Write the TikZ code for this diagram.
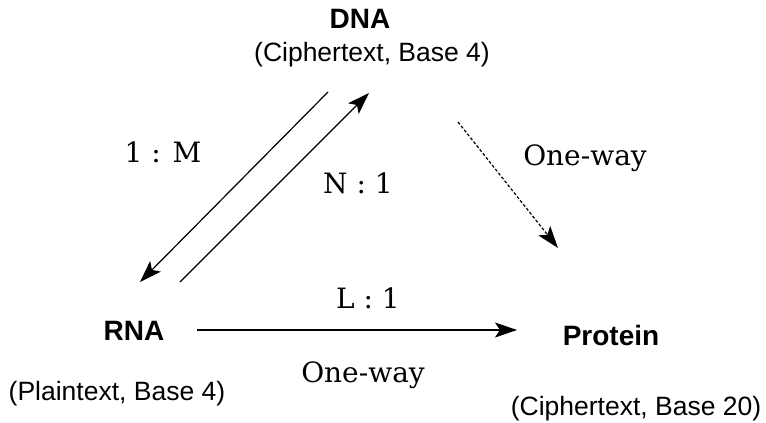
\documentclass[tikz,border=0pt]{standalone}
\usepackage{fontspec}
\newfontfamily\labelfont{Liberation Sans}
\newfontfamily\ratiofont{DejaVu Serif}
\usetikzlibrary{arrows.meta}
\begin{document}
\begin{tikzpicture}[x=1pt,y=-1pt,
  every node/.style={inner sep=0pt,outer sep=0pt,anchor=base},
  molname/.style={font=\labelfont\bfseries\fontsize{28}{30}\selectfont},
  molinfo/.style={font=\labelfont\fontsize{26.5}{30}\selectfont},
  ratio/.style={font=\ratiofont\fontsize{28}{32}\selectfont},
  conn/.style={line width=1.2pt,-{Stealth[length=22pt,width=15pt,inset=5pt]}},
  oneway/.style={conn,dash pattern=on 3pt off 2pt}]
\useasboundingbox (0,0) rectangle (766,423);

% molecules
\node[molname] (dna) at (360,28) {DNA};
\node[molinfo] (dnainfo) at (372,61) {(Ciphertext, Base 4)};
\node[molname] (rna) at (134,340) {RNA};
\node[molinfo] (rnainfo) at (117,400) {(Plaintext, Base 4)};
\node[molname] (protein) at (611,345) {Protein};
\node[molinfo] (proteininfo) at (636,415) {(Ciphertext, Base 20)};

% connector end points
\coordinate (dnaout) at (328,92);
\coordinate (rnain) at (140,282);
\coordinate (rnaout) at (180,282);
\coordinate (dnain) at (369,93);
\coordinate (dnaside) at (458,122);
\coordinate (proteintop) at (558,248);
\coordinate (rnaright) at (197,330);
\coordinate (proteinleft) at (517,330);

% connectors
\draw[conn] (dnaout) -- (rnain);
\draw[conn] (rnaout) -- (dnain);
\draw[oneway] (dnaside) -- (proteintop);
\draw[conn] (rnaright) -- (proteinleft);

% connector labels
\node[ratio] (lm) at (163,162) {1 : M};
\node[ratio] (n1) at (358,193) {N : 1};
\node[ratio] (l1) at (368,308) {L : 1};
\node[ratio] (owtop) at (585,165) {One-way};
\node[ratio] (owbottom) at (363,382) {One-way};
\end{tikzpicture}
\end{document}
